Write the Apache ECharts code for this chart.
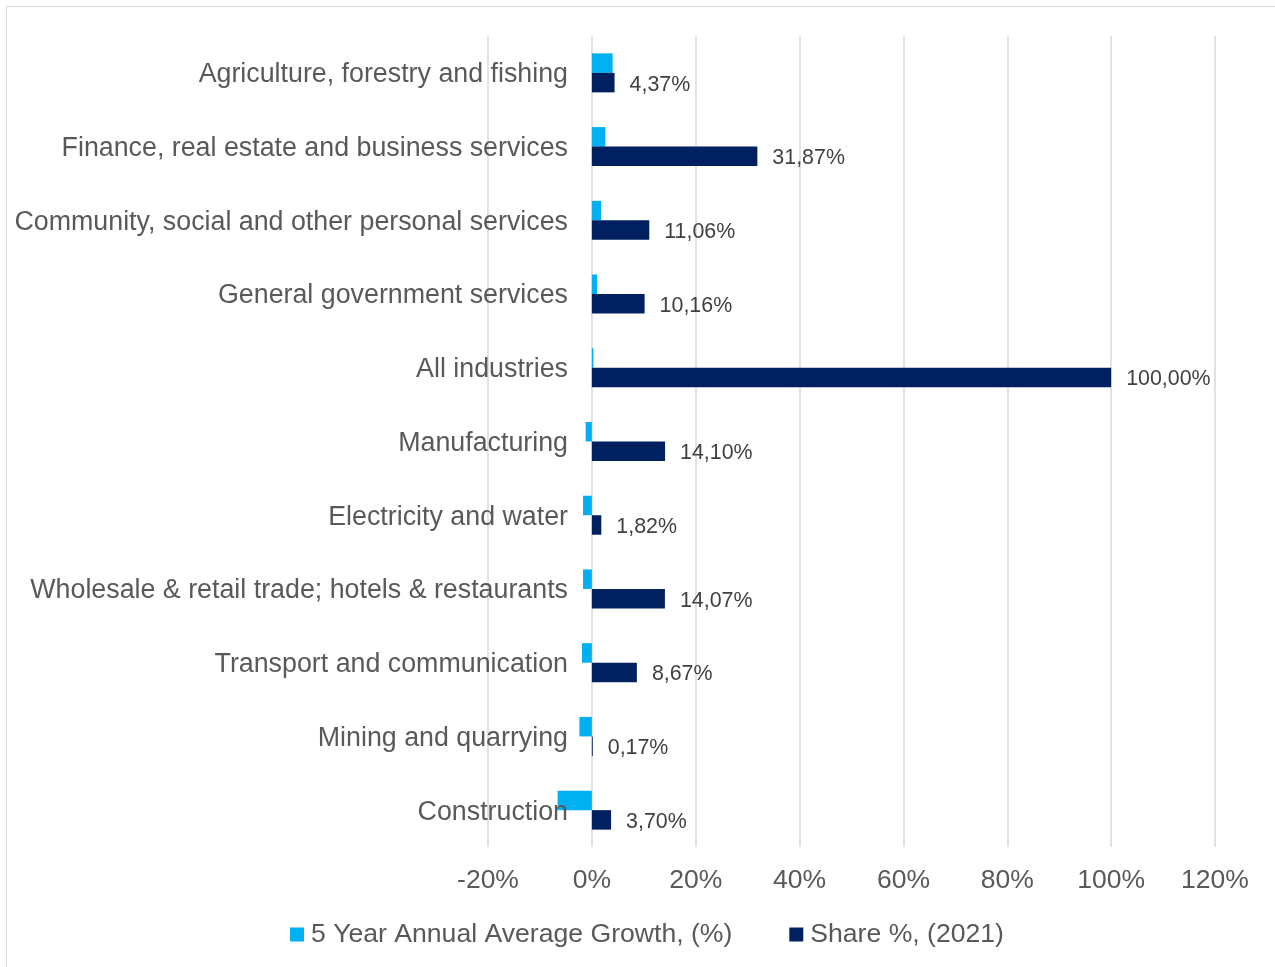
<!DOCTYPE html>
<html>
<head>
<meta charset="utf-8">
<script src="https://cdn.jsdelivr.net/npm/echarts@6/dist/echarts.min.js"></script>
<style>
  html, body { margin: 0; padding: 0; background: #ffffff; }
  #chart { width: 1275px; height: 967px; }
</style>
</head>
<body>
<div id="chart"></div>
<script>
// Industry categories, top to bottom
const categories = [
  'Agriculture, forestry and fishing',
  'Finance, real estate and business services',
  'Community, social and other personal services',
  'General government services',
  'All industries',
  'Manufacturing',
  'Electricity and water',
  'Wholesale & retail trade; hotels & restaurants',
  'Transport and communication',
  'Mining and quarrying',
  'Construction'
];

// 5-year annual average growth (%)
const growth = [4.0, 2.6, 1.8, 1.0, 0.3, -1.2, -1.7, -1.7, -1.9, -2.4, -6.6];

// Share of total (%), 2021
const share = [4.37, 31.87, 11.06, 10.16, 100.00, 14.10, 1.82, 14.07, 8.67, 0.17, 3.70];

// X-axis ticks (%)
const xTicks = [-20, 0, 20, 40, 60, 80, 100, 120];

const seriesNames = ['5 Year Annual Average Growth, (%)', 'Share %, (2021)'];

const FONT = "'Liberation Sans', Arial, sans-serif";
const GREY_TEXT = '#595959';

const chart = echarts.init(document.getElementById('chart'), null, { renderer: 'canvas' });

chart.setOption({
  backgroundColor: '#ffffff',
  animation: false,
  graphic: [{
    type: 'rect',
    shape: { x: 6.5, y: 6.5, width: 1400, height: 1100 },
    style: { fill: 'none', stroke: '#d9d9d9', lineWidth: 1 },
    silent: true,
    z: -10
  }],
  grid: {
    left: 488,
    right: 60,
    top: 36,
    bottom: 120,
    containLabel: false
  },
  legend: {
    data: seriesNames,
    left: 285,
    top: 916,
    icon: 'rect',
    itemWidth: 14,
    itemHeight: 14,
    itemGap: 57,
    textStyle: { fontFamily: FONT, fontSize: 26.6, color: GREY_TEXT, padding: [0, 0, 0, 2] }
  },
  xAxis: {
    type: 'value',
    min: xTicks[0],
    max: xTicks[xTicks.length - 1],
    interval: xTicks[1] - xTicks[0],
    axisLine: { show: false },
    axisTick: { show: false },
    axisLabel: {
      formatter: '{value}%',
      fontFamily: FONT,
      fontSize: 26.5,
      color: GREY_TEXT,
      margin: 20
    },
    splitLine: { show: true, lineStyle: { color: '#d9d9d9', width: 1.5 } }
  },
  yAxis: {
    type: 'category',
    data: categories,
    inverse: true,
    axisLine: { show: false },
    axisTick: { show: false },
    axisLabel: {
      margin: -80,
      formatter: v => '{c|' + v + '}',
      rich: {
        c: {
          fontFamily: FONT,
          fontSize: 26.8,
          color: GREY_TEXT,
          padding: [4, 0, 0, 0]
        }
      }
    },
    z: 10
  },
  series: [
    {
      name: seriesNames[0],
      type: 'bar',
      data: growth,
      barWidth: 19.5,
      barGap: '0%',
      itemStyle: { color: '#00b0f0' }
    },
    {
      name: seriesNames[1],
      type: 'bar',
      data: share,
      barWidth: 19.5,
      barGap: '0%',
      itemStyle: { color: '#002060' },
      label: {
        show: true,
        position: 'right',
        distance: 15,
        offset: [0, 2],
        fontFamily: FONT,
        fontSize: 21.4,
        color: '#404040',
        formatter: p => p.value.toFixed(2).replace('.', ',') + '%'
      }
    }
  ]
});
</script>
</body>
</html>
